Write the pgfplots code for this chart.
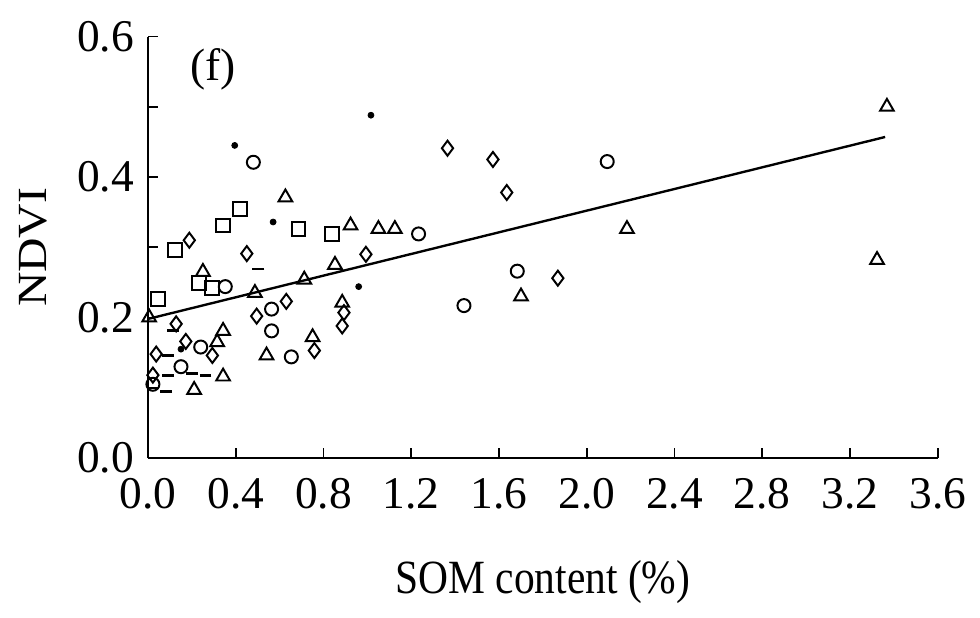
\documentclass[border=0pt]{standalone}
\usepackage{fontspec}
\setmainfont{Liberation Serif}
\usepackage{graphicx}
\usepackage{pgfplots}
\pgfplotsset{compat=1.18}
\begin{document}
\fontsize{21}{25}\selectfont
\begin{tikzpicture}
\begin{axis}[
  scale only axis, width=400pt, height=213.5pt,
  xmin=0, xmax=3.6, ymin=0, ymax=0.6,
  axis lines*=left,
  axis line style={line width=1.1pt, black},
  tick align=inside,
  major tick length=5pt, minor tick length=5pt,
  tick style={line width=0.9pt, black},
  xtick={0,0.4,0.8,1.2,1.6,2.0,2.4,2.8,3.2,3.6},
  ytick={0,0.2,0.4,0.6}, minor ytick={0.1,0.3,0.5},
  /pgf/number format/fixed,
  /pgf/number format/fixed zerofill,
  /pgf/number format/precision=1,
  /pgf/number format/assume math mode=true,
  xticklabel style={yshift=-3pt},
  tick label style={font=\fontsize{23}{27}\selectfont},
  label style={font=\fontsize{21}{25}\selectfont},
  xlabel={\scalebox{1}[1.15]{SOM content (\%)}},
  ylabel={\scalebox{1.15}[1]{NDVI}},
  xlabel style={yshift=-12pt},
  ylabel style={yshift=1pt},
  clip=false,
]
% squares
\addplot[only marks, mark=square, mark size=3.5pt, black, line width=1pt] coordinates {
(0.42,0.355) (0.342,0.331) (0.686,0.326) (0.84,0.319) (0.123,0.296)
(0.233,0.249) (0.293,0.242) (0.045,0.226)
};
% circles
\addplot[only marks, mark=o, mark size=3.3pt, black, line width=1pt] coordinates {
(0.48,0.421) (1.233,0.319) (0.352,0.244) (0.563,0.212) (0.563,0.181)
(0.24,0.158) (0.653,0.144) (0.15,0.13) (2.093,0.422) (1.683,0.266)
(1.44,0.217) (0.022,0.105)
};
% triangles
\addplot[only marks, mark=triangle, mark size=4pt, black, line width=1pt] coordinates {
(0.626,0.371) (0.923,0.331) (1.05,0.326) (1.125,0.326) (0.852,0.275)
(0.712,0.254) (0.487,0.235) (0.885,0.221) (0.005,0.2) (0.342,0.181)
(0.75,0.172) (0.315,0.165) (0.54,0.146) (0.342,0.116) (0.21,0.097)
(2.183,0.326) (1.70,0.23) (3.368,0.5) (3.323,0.282) (0.25,0.265)
};
% diamonds
\addplot[only marks, mark=diamond, mark size=3.8pt, black, line width=1pt] coordinates {
(0.188,0.31) (0.45,0.291) (0.993,0.29) (0.63,0.223) (0.495,0.202)
(0.893,0.207) (0.885,0.188) (0.128,0.191) (0.758,0.153) (0.172,0.166)
(0.293,0.146) (0.037,0.148) (0.022,0.118) (1.365,0.441) (1.572,0.425)
(1.635,0.378) (1.868,0.256)
};
% dots
\addplot[only marks, mark=*, mark size=1.5pt, black] coordinates {
(0.395,0.445) (1.016,0.488) (0.57,0.336) (0.96,0.244) (0.15,0.155)
};
% dashes
\addplot[only marks, mark=-, mark size=3pt, black, line width=1.4pt] coordinates {
(0.503,0.269) (0.113,0.181) (0.09,0.146) (0.2,0.12) (0.262,0.118)
(0.09,0.118) (0.083,0.095)
};
% regression line
\addplot[black, line width=1.2pt, no marks] coordinates {(0,0.198) (3.36,0.457)};
\node[anchor=center, font=\fontsize{23}{27}\selectfont] at (axis cs:0.295,0.553) {(f)};
\path (axis cs:-0.675,-0.2094) rectangle (axis cs:3.735,0.652);
\end{axis}
\end{tikzpicture}
\end{document}
